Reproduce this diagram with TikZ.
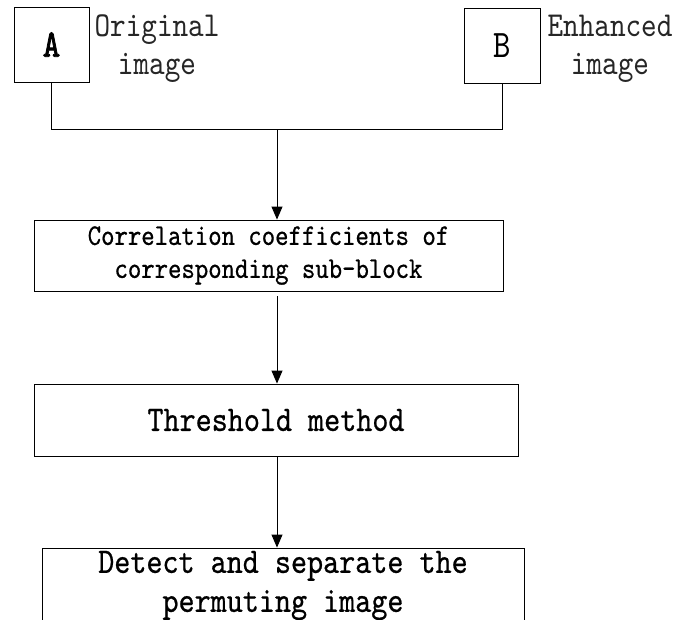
\documentclass[tikz,border=0pt]{standalone}
\usepackage{fontspec}
\newfontfamily\boxmono{lmmono10-regular.otf}[FakeStretch=0.85,FakeBold=0.6]
\newfontfamily\lblmono{lmmono10-regular.otf}[FakeStretch=0.85]
\newfontfamily\boxmonobold{lmmono10-regular.otf}[FakeStretch=0.85,FakeBold=2]
\usetikzlibrary{arrows.meta}
\begin{document}
\begin{tikzpicture}[x=1pt,y=-1pt,
  box/.style={draw, line width=0.9pt, inner sep=0pt, align=center},
  link/.style={line width=0.9pt},
  arr/.style={line width=0.9pt, -{Triangle[length=13pt,width=11pt]}},
  lbl/.style={align=center, inner sep=0pt, text=black!85, font=\lblmono\fontsize{35}{38}\selectfont},
  big/.style={font=\boxmono\fontsize{36}{39}\selectfont},
  small/.style={font=\boxmono\fontsize{30}{33}\selectfont}]
\useasboundingbox (0,0) rectangle (675,619);
% top boxes
\node[box, minimum width=75pt, minimum height=75pt, font=\boxmonobold\fontsize{39}{40}\selectfont] (A) at (51.5,44.5) {A};
\node[box, minimum width=76pt, minimum height=75pt, font=\lblmono\fontsize{39}{40}\selectfont] (B) at (502,45.5) {B};
\node[lbl] (la) at (157,49) {Original\\image};
\node[lbl] (lb) at (610,49) {Enhanced\\image};
% process boxes
\node[box, small, minimum width=469pt, minimum height=71pt] (C) at (268.5,255.5) {Correlation coefficients of\\corresponding sub-block};
\node[box, big, minimum width=484pt, minimum height=72pt] (D) at (276,420) {Threshold method};
\node[box, big, minimum width=482pt, minimum height=75pt] (E) at (283,585.5) {Detect and separate the\\permuting image};
% connectors
\coordinate (m) at (277,129);
\draw[link] (A.south) -- (A.south |- m) -- (B.south |- m) -- (B.south);
\draw[arr] (m) -- (C.north -| m);
\draw[arr, shorten <=5pt] (C.south -| m) -- (D.north -| m);
\draw[arr] (D.south -| m) -- (E.north -| m);
\end{tikzpicture}
\end{document}
